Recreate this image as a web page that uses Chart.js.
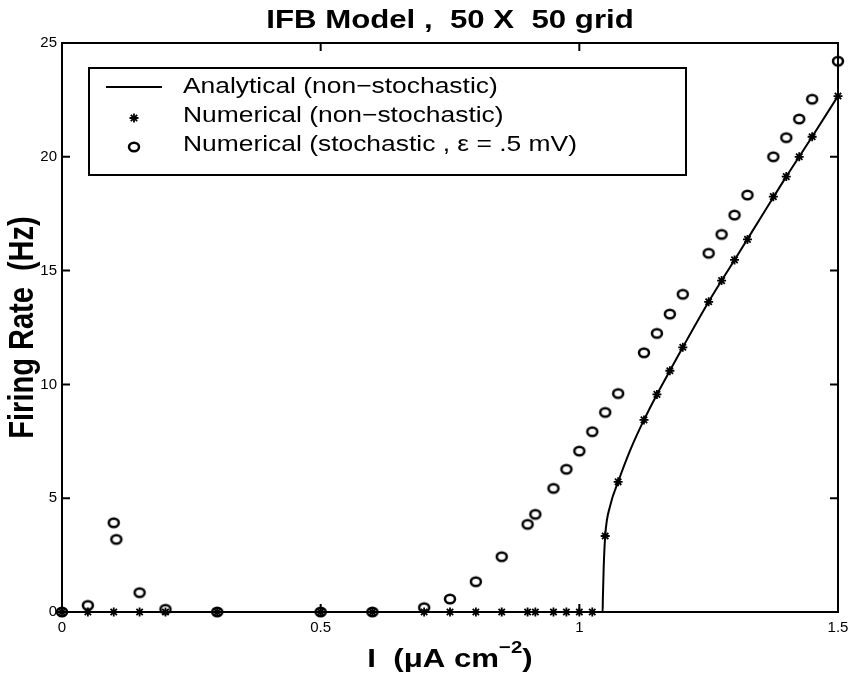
<!DOCTYPE html>
<html>
<head>
<meta charset="utf-8">
<script src="https://cdn.jsdelivr.net/npm/chart.js@4.4.1/dist/chart.umd.min.js"></script>
<style>
  html, body { margin: 0; padding: 0; background: #fff; }
  canvas { display: block; }
</style>
</head>
<body>
<canvas id="chart" width="858" height="676"></canvas>
<script>
// values: current I (uA/cm^2) vs firing rate (Hz)
const analyticI    = [0, 1.045, 1.0455, 1.047, 1.05, 1.06, 1.075, 1.1, 1.125, 1.15, 1.175, 1.2, 1.25, 1.3, 1.35, 1.4, 1.45, 1.5];
const analyticRate = [0, 0, 0.6, 1.9, 3.34, 4.7, 5.72, 7.2, 8.44, 9.56, 10.6, 11.63, 13.63, 15.47, 17.3, 19.13, 20.88, 22.67];

const numI    = [0, 0.05, 0.1, 0.15, 0.2, 0.3, 0.5, 0.6, 0.7, 0.75, 0.8, 0.85, 0.9, 0.915, 0.95, 0.975, 1.0, 1.025,
                 1.05, 1.075, 1.125, 1.15, 1.175, 1.2, 1.25, 1.275, 1.3, 1.325, 1.375, 1.4, 1.425, 1.45, 1.5];
const numRate = [0, 0, 0, 0, 0, 0, 0, 0, 0, 0, 0, 0, 0, 0, 0, 0, 0, 0,
                 3.34, 5.72, 8.44, 9.56, 10.6, 11.63, 13.63, 14.56, 15.47, 16.37, 18.25, 19.13, 20.0, 20.88, 22.67];

const stochI    = [0, 0.05, 0.1, 0.105, 0.15, 0.2, 0.3, 0.5, 0.6, 0.7, 0.75, 0.8, 0.85, 0.9, 0.915, 0.95, 0.975, 1.0, 1.025,
                   1.05, 1.075, 1.125, 1.15, 1.175, 1.2, 1.25, 1.275, 1.3, 1.325, 1.375, 1.4, 1.425, 1.45, 1.5];
const stochRate = [0, 0.29, 3.92, 3.19, 0.85, 0.12, 0, 0, 0, 0.19, 0.57, 1.33, 2.43, 3.85, 4.29, 5.43, 6.27, 7.07, 7.92,
                   8.77, 9.6, 11.39, 12.24, 13.09, 13.96, 15.76, 16.59, 17.44, 18.32, 20.0, 20.84, 21.66, 22.53, 24.2];

const xTicks = [0, 0.5, 1, 1.5];
const yTicks = [0, 5, 10, 15, 20, 25];

const seriesNames = [
    "Analytical (non\u2212stochastic)",
    "Numerical (non\u2212stochastic)",
    "Numerical (stochastic , \u03b5 = .5 mV)"
];

const toPoints = (xs, ys) => xs.map((v, i) => ({ x: v, y: ys[i] }));

const FONT = "Arial, 'Liberation Sans', sans-serif";
const STRETCH = 1.2; // the figure's lettering and markers are a bit wider than tall

// hollow 'o' marker, slightly oval like in the figure
const ring = document.createElement("canvas");
ring.width = 16; ring.height = 14;
(() => {
    const c = ring.getContext("2d");
    c.strokeStyle = "#000";
    c.lineWidth = 2.5;
    c.beginPath();
    c.ellipse(8, 7, 5.0, 4.3, 0, 0, Math.PI * 2);
    c.stroke();
})();

const starStyle = { pointStyle: "star", radius: 4.5, borderWidth: 1.8, rotation: 0 };
const ringStyle = { pointStyle: ring, radius: 5, borderWidth: 0, rotation: 0 };

function wideText(ctx, text, x, y) {
    ctx.save();
    ctx.translate(x, y);
    ctx.scale(STRETCH, 1);
    ctx.fillText(text, 0, 0);
    ctx.restore();
}

// box, inward ticks, titles and legend, MATLAB style
const figurePlugin = {
    id: "figure",
    beforeDatasetsDraw(chart) {
        const { ctx, chartArea: a, scales: { x, y } } = chart;
        const tl = 8;
        ctx.save();
        ctx.strokeStyle = "#000";
        ctx.lineWidth = 2;
        ctx.strokeRect(a.left, a.top, a.right - a.left, a.bottom - a.top);
        ctx.beginPath();
        x.ticks.forEach(t => {
            const px = x.getPixelForValue(t.value);
            ctx.moveTo(px, a.bottom); ctx.lineTo(px, a.bottom - tl);
            ctx.moveTo(px, a.top); ctx.lineTo(px, a.top + tl);
        });
        y.ticks.forEach(t => {
            const py = y.getPixelForValue(t.value);
            ctx.moveTo(a.left, py); ctx.lineTo(a.left + tl, py);
            ctx.moveTo(a.right, py); ctx.lineTo(a.right - tl, py);
        });
        ctx.stroke();
        ctx.restore();
    },
    afterDraw(chart) {
        const { ctx, chartArea: a } = chart;
        const cx = (a.left + a.right) / 2;
        ctx.save();
        ctx.fillStyle = "#000";

        // title
        ctx.font = "bold 26px " + FONT;
        ctx.textAlign = "center";
        ctx.textBaseline = "alphabetic";
        wideText(ctx, "IFB Model ,  50 X  50 grid", cx, 28);

        // y axis title (stretched across its thickness)
        ctx.save();
        ctx.translate(23, (a.top + a.bottom) / 2);
        ctx.rotate(-Math.PI / 2);
        ctx.scale(1, STRETCH);
        ctx.font = "bold 29px " + FONT;
        ctx.textBaseline = "middle";
        ctx.fillText("Firing Rate  (Hz)", 0, 0);
        ctx.restore();

        // x axis title with superscript
        const big = "bold 26px " + FONT;
        const small = "bold 17px " + FONT;
        const p1 = "I  (\u03bcA cm", sup = "\u22122", p2 = ")";
        ctx.textAlign = "left";
        ctx.font = big; const w1 = ctx.measureText(p1).width * STRETCH, w3 = ctx.measureText(p2).width * STRETCH;
        ctx.font = small; const w2 = ctx.measureText(sup).width * STRETCH;
        let xx = cx - (w1 + w2 + w3) / 2;
        const base = 667;
        ctx.font = big; wideText(ctx, p1, xx, base); xx += w1;
        ctx.font = small; wideText(ctx, sup, xx, base - 14); xx += w2;
        ctx.font = big; wideText(ctx, p2, xx, base);

        // legend
        const box = { left: 89, top: 68, right: 686, bottom: 175 };
        ctx.lineWidth = 2;
        ctx.strokeStyle = "#000";
        ctx.fillStyle = "#fff";
        ctx.fillRect(box.left, box.top, box.right - box.left, box.bottom - box.top);
        ctx.strokeRect(box.left, box.top, box.right - box.left, box.bottom - box.top);
        const rows = [87, 116, 145];
        ctx.fillStyle = "#000";
        ctx.font = "22px " + FONT;
        ctx.textBaseline = "middle";
        chart.data.datasets.forEach((ds, i) => {
            const ry = rows[i];
            if (i === 0) {
                ctx.beginPath();
                ctx.lineWidth = 2;
                ctx.moveTo(106, ry); ctx.lineTo(162, ry);
                ctx.stroke();
            } else {
                ctx.lineWidth = starStyle.borderWidth;
                ctx.fillStyle = "rgba(0,0,0,0)";
                Chart.helpers.drawPoint(ctx, i === 1 ? starStyle : ringStyle, 134, ry + 2);
                ctx.fillStyle = "#000";
            }
            wideText(ctx, ds.label, 183, ry);
        });
        ctx.restore();
    }
};

new Chart(document.getElementById("chart"), {
    type: "scatter",
    data: {
        datasets: [
            {
                label: seriesNames[0],
                data: toPoints(analyticI, analyticRate),
                showLine: true,
                borderColor: "#000",
                borderWidth: 2,
                pointRadius: 0,
                cubicInterpolationMode: "monotone",
                clip: false
            },
            {
                label: seriesNames[1],
                data: toPoints(numI, numRate),
                pointStyle: "star",
                pointRadius: starStyle.radius,
                pointBorderWidth: starStyle.borderWidth,
                borderWidth: starStyle.borderWidth,
                borderColor: "#000",
                backgroundColor: "#000",
                clip: false
            },
            {
                label: seriesNames[2],
                data: toPoints(stochI, stochRate),
                pointStyle: ring,
                pointRadius: ringStyle.radius,
                borderColor: "#000",
                backgroundColor: "rgba(0,0,0,0)",
                clip: false
            }
        ]
    },
    options: {
        responsive: false,
        animation: false,
        devicePixelRatio: 1,
        layout: { padding: { left: 0, top: 43, right: 20, bottom: 0 } },
        plugins: {
            legend: { display: false },
            tooltip: { enabled: false },
            title: { display: false }
        },
        scales: {
            x: {
                type: "linear",
                min: 0,
                max: 1.5,
                afterFit: s => { s.height = 64; },
                afterBuildTicks: s => { s.ticks = xTicks.map(v => ({ value: v })); },
                grid: { display: false, drawTicks: false },
                border: { display: false },
                ticks: {
                    color: "#000",
                    padding: 7,
                    maxRotation: 0,
                    font: { family: FONT, size: 15 },
                    callback: v => String(v)
                }
            },
            y: {
                type: "linear",
                min: 0,
                max: 25,
                afterFit: s => { s.width = 62; },
                afterBuildTicks: s => { s.ticks = yTicks.map(v => ({ value: v })); },
                grid: { display: false, drawTicks: false },
                border: { display: false },
                ticks: {
                    color: "#000",
                    padding: 5,
                    font: { family: FONT, size: 15 },
                    callback: v => String(v)
                }
            }
        }
    },
    plugins: [figurePlugin]
});
</script>
</body>
</html>
